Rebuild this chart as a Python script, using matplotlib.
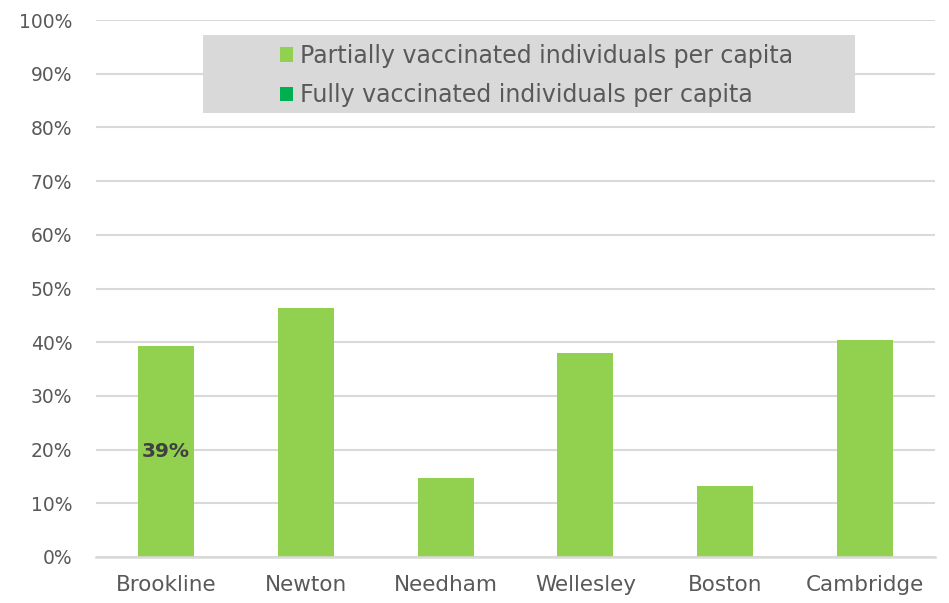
import matplotlib
matplotlib.use('Agg')
import matplotlib.pyplot as plt
from matplotlib.patches import Rectangle
from matplotlib.ticker import FuncFormatter

# data
towns = ['Brookline', 'Newton', 'Needham', 'Wellesley', 'Boston', 'Cambridge']
partial = [0.393, 0.464, 0.147, 0.380, 0.132, 0.404]
fully = [0, 0, 0, 0, 0, 0]
series_names = ['Partially vaccinated individuals per capita',
                'Fully vaccinated individuals per capita']

c_partial = '#92D050'
c_fully = '#00B050'
txt = '#595959'

plt.rcParams['font.family'] = ['DejaVu Sans']

fig = plt.figure(figsize=(9.49, 6.03), dpi=100)
ax = fig.add_axes([96 / 949, 1 - 557 / 603, 839 / 949, 537 / 603])

x = range(len(towns))
ax.bar(x, partial, width=0.4, color=c_partial, label=series_names[0], zorder=3)
ax.bar(x, fully, width=0.4, bottom=partial, color=c_fully, label=series_names[1], zorder=3)

# only the first bar is labelled
ax.text(0, partial[0] / 2, f'{partial[0]:.0%}', ha='center', va='center',
        fontsize=14.5, fontweight='bold', color='#404040', zorder=4)

ax.set_xlim(-0.5, len(towns) - 0.5)
ax.set_ylim(0, 1.0)
ax.set_yticks([i / 10 for i in range(11)])
ax.yaxis.set_major_formatter(FuncFormatter(lambda v, p: f'{v:.0%}'))
ax.set_xticks(list(x))
ax.set_xticklabels(towns)
ax.tick_params(length=0, colors=txt)
ax.tick_params(axis='y', pad=17, labelsize=13.5)
ax.tick_params(axis='x', pad=13, labelsize=15.5)
ax.grid(axis='y', color='#D9D9D9', linewidth=1.5, zorder=0)
for s in ['top', 'right', 'left']:
    ax.spines[s].set_visible(False)
ax.spines['bottom'].set_color('#D9D9D9')
ax.spines['bottom'].set_linewidth(1.8)
ax.spines['bottom'].set_zorder(3.5)

# legend background box
ax.add_patch(Rectangle((0.1275, 0.827), 0.7775, 0.145, transform=ax.transAxes,
                       facecolor='#D9D9D9', edgecolor='none', zorder=5))
leg = ax.legend(loc='upper left', bbox_to_anchor=(0.194, 0.995), frameon=False,
                fontsize=17, handlelength=0.55, handleheight=0.55, handletextpad=0.3,
                labelspacing=0.65, labelcolor=txt)
leg.set_zorder(6)

fig.savefig('out.png', dpi=100)
